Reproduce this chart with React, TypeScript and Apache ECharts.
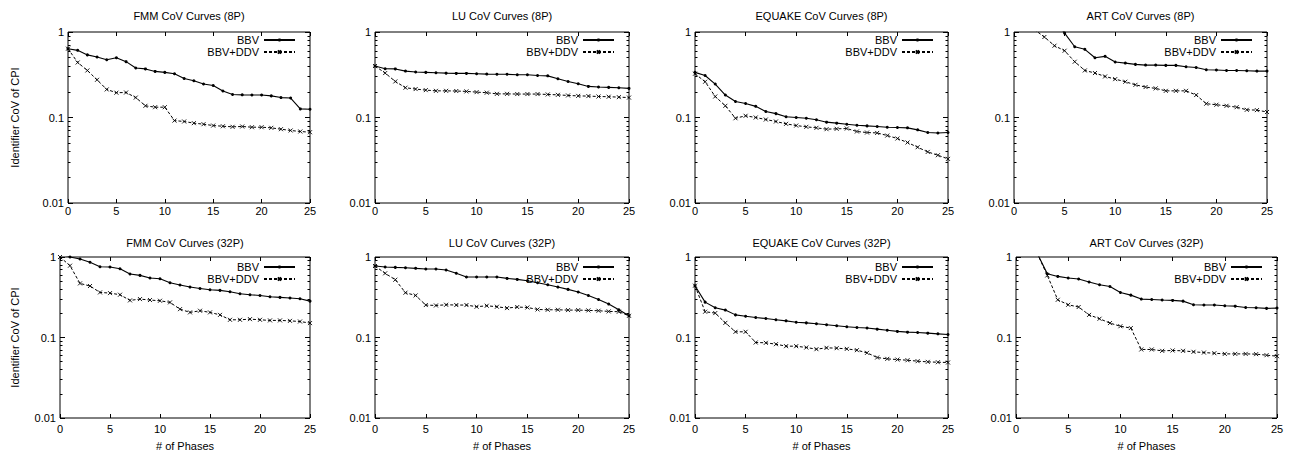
import React, { useEffect, useRef } from "react";
import * as echarts from "echarts";

const phases = [0, 1, 2, 3, 4, 5, 6, 7, 8, 9, 10, 11, 12, 13, 14, 15, 16, 17, 18, 19, 20, 21, 22, 23, 24, 25];
const xTicks = [0, 5, 10, 15, 20, 25];
const yMajorTicks = [0.01, 0.1, 1];
const yMinorTicks = [0.02, 0.03, 0.04, 0.05, 0.06, 0.07, 0.08, 0.09, 0.2, 0.3, 0.4, 0.5, 0.6, 0.7, 0.8, 0.9];

const seriesNames = ["BBV", "BBV+DDV"];
const titles = [
  "FMM CoV Curves (8P)",
  "LU CoV Curves (8P)",
  "EQUAKE CoV Curves (8P)",
  "ART CoV Curves (8P)",
  "FMM CoV Curves (32P)",
  "LU CoV Curves (32P)",
  "EQUAKE CoV Curves (32P)",
  "ART CoV Curves (32P)",
];
const yAxisTitle = "Identifier CoV of CPI";
const xAxisTitle = "# of Phases";

const fmm8Bbv = [0.638, 0.61, 0.54, 0.51, 0.474, 0.5, 0.45, 0.38, 0.37, 0.346, 0.337, 0.325, 0.286, 0.269, 0.246, 0.237, 0.204, 0.186, 0.184, 0.183, 0.183, 0.179, 0.171, 0.169, 0.126, 0.125];
const fmm8Ddv = [0.638, 0.44, 0.355, 0.276, 0.213, 0.195, 0.196, 0.171, 0.137, 0.132, 0.132, 0.092, 0.0898, 0.0859, 0.0835, 0.0805, 0.079, 0.0778, 0.0785, 0.077, 0.077, 0.0757, 0.073, 0.0705, 0.0686, 0.0673];
const lu8Bbv = [0.4, 0.372, 0.37, 0.349, 0.34, 0.337, 0.334, 0.33, 0.328, 0.328, 0.325, 0.322, 0.32, 0.32, 0.316, 0.316, 0.31, 0.307, 0.284, 0.264, 0.248, 0.231, 0.227, 0.225, 0.223, 0.219];
const lu8Ddv = [0.4, 0.331, 0.264, 0.223, 0.215, 0.209, 0.205, 0.205, 0.204, 0.202, 0.198, 0.195, 0.189, 0.189, 0.188, 0.188, 0.188, 0.186, 0.184, 0.181, 0.179, 0.178, 0.176, 0.175, 0.173, 0.171];
const eq8Bbv = [0.337, 0.31, 0.246, 0.183, 0.154, 0.146, 0.135, 0.1175, 0.111, 0.102, 0.1, 0.098, 0.094, 0.0882, 0.0859, 0.0835, 0.0813, 0.0798, 0.0785, 0.077, 0.0764, 0.0757, 0.0717, 0.0667, 0.066, 0.0667];
const eq8Ddv = [0.325, 0.262, 0.176, 0.137, 0.098, 0.1047, 0.1, 0.0947, 0.0898, 0.0843, 0.0805, 0.0778, 0.0757, 0.073, 0.0737, 0.0743, 0.0686, 0.0667, 0.066, 0.0615, 0.0568, 0.051, 0.0449, 0.0396, 0.0362, 0.0328];
const art8Bbv = [3.0, 2.5, 2.0, 1.7, 1.4, 0.97, 0.673, 0.627, 0.5, 0.519, 0.445, 0.433, 0.418, 0.41, 0.41, 0.407, 0.407, 0.393, 0.385, 0.362, 0.359, 0.355, 0.355, 0.352, 0.349, 0.349];
const art8Ddv = [1.6, 1.3, 1.07, 0.874, 0.691, 0.604, 0.449, 0.355, 0.331, 0.302, 0.281, 0.262, 0.241, 0.227, 0.219, 0.205, 0.205, 0.205, 0.183, 0.145, 0.141, 0.137, 0.132, 0.123, 0.122, 0.116];
const fmm32Bbv = [1.1, 1.0, 0.944, 0.859, 0.758, 0.751, 0.716, 0.614, 0.591, 0.548, 0.537, 0.479, 0.448, 0.423, 0.407, 0.392, 0.385, 0.37, 0.35, 0.34, 0.333, 0.321, 0.315, 0.309, 0.303, 0.283];
const fmm32Ddv = [1.0, 0.78, 0.47, 0.436, 0.363, 0.356, 0.34, 0.289, 0.3, 0.292, 0.286, 0.273, 0.225, 0.205, 0.215, 0.205, 0.191, 0.166, 0.166, 0.169, 0.166, 0.163, 0.163, 0.161, 0.158, 0.151];
const lu32Bbv = [0.773, 0.751, 0.743, 0.736, 0.723, 0.709, 0.709, 0.689, 0.627, 0.564, 0.564, 0.564, 0.564, 0.542, 0.527, 0.507, 0.479, 0.453, 0.423, 0.396, 0.367, 0.333, 0.297, 0.26, 0.221, 0.186];
const lu32Ddv = [0.773, 0.627, 0.522, 0.36, 0.333, 0.253, 0.25, 0.255, 0.253, 0.253, 0.241, 0.248, 0.241, 0.232, 0.239, 0.236, 0.223, 0.221, 0.221, 0.219, 0.219, 0.217, 0.215, 0.211, 0.209, 0.186];
const eq32Bbv = [0.44, 0.275, 0.234, 0.219, 0.191, 0.184, 0.177, 0.172, 0.166, 0.161, 0.155, 0.152, 0.148, 0.144, 0.14, 0.136, 0.133, 0.131, 0.127, 0.123, 0.119, 0.1165, 0.1154, 0.1132, 0.111, 0.109];
const eq32Ddv = [0.44, 0.209, 0.201, 0.152, 0.1177, 0.1177, 0.0867, 0.0859, 0.0826, 0.078, 0.078, 0.0751, 0.0716, 0.0744, 0.0737, 0.0722, 0.0696, 0.0645, 0.0564, 0.0543, 0.0532, 0.0522, 0.0508, 0.0498, 0.0493, 0.0489];
const art32Bbv = [1.6, 1.3, 1.13, 0.62, 0.574, 0.548, 0.532, 0.489, 0.453, 0.431, 0.363, 0.336, 0.3, 0.297, 0.292, 0.289, 0.283, 0.255, 0.253, 0.253, 0.248, 0.245, 0.236, 0.234, 0.23, 0.232];
const art32Ddv = [1.6, 1.3, 1.13, 0.59, 0.294, 0.255, 0.239, 0.191, 0.171, 0.151, 0.138, 0.131, 0.071, 0.071, 0.0683, 0.069, 0.0683, 0.0664, 0.065, 0.0638, 0.0626, 0.0626, 0.0626, 0.0621, 0.0603, 0.0586];

const panelData = [
  [fmm8Bbv, fmm8Ddv],
  [lu8Bbv, lu8Ddv],
  [eq8Bbv, eq8Ddv],
  [art8Bbv, art8Ddv],
  [fmm32Bbv, fmm32Ddv],
  [lu32Bbv, lu32Ddv],
  [eq32Bbv, eq32Ddv],
  [art32Bbv, art32Ddv],
];

// layout (pixels)
const W = 1291;
const H = 453;
const GRIDS = [
  { left: 68, top: 32, width: 242, height: 171 },
  { left: 375, top: 32, width: 254, height: 171 },
  { left: 695, top: 32, width: 253, height: 171 },
  { left: 1014, top: 32, width: 253, height: 171 },
  { left: 60, top: 257, width: 250, height: 161 },
  { left: 375, top: 257, width: 254, height: 161 },
  { left: 695, top: 257, width: 253, height: 161 },
  { left: 1016, top: 257, width: 261, height: 161 },
];

const FONT = "'Liberation Sans', Arial, Helvetica, sans-serif";
const X_SYMBOL = "path://M0,0L4,4M4,0L0,4";

function buildOption() {
  const grid: any[] = [];
  const xAxis: any[] = [];
  const yAxis: any[] = [];
  const series: any[] = [];
  const title: any[] = [];
  const legend: any[] = [];

  GRIDS.forEach((g, i) => {
    const row = i < 4 ? 0 : 1;
    const col = i % 4;
    grid.push({
      left: g.left,
      top: g.top,
      width: g.width,
      height: g.height,
      show: true,
      borderColor: "#000",
      borderWidth: 1,
      backgroundColor: "transparent",
      containLabel: false,
    });
    const xBase = {
      gridIndex: i,
      type: "value",
      min: 0,
      max: 25,
      interval: 5,
      axisLine: { show: false },
      splitLine: { show: false },
      axisTick: { show: true, inside: true, length: 4, lineStyle: { color: "#000", width: 1 } },
    };
    xAxis.push({
      ...xBase,
      position: "bottom",
      axisLabel: {
        show: true,
        color: "#000",
        fontSize: 11,
        fontFamily: FONT,
        margin: row === 0 ? 2 : 5,
        customValues: xTicks,
      },
      name: row === 1 ? xAxisTitle : "",
      nameLocation: "middle",
      nameGap: 22,
      nameTextStyle: { color: "#000", fontSize: 11, fontFamily: FONT },
    });
    xAxis.push({ ...xBase, position: "top", axisLabel: { show: false } });

    const yBase = {
      gridIndex: i,
      type: "log",
      logBase: 10,
      min: 0.01,
      max: 1,
      axisLine: { show: false },
      splitLine: { show: false },
    };
    yAxis.push({
      ...yBase,
      position: "left",
      axisTick: { show: true, inside: true, length: 5, lineStyle: { color: "#000", width: 1 }, customValues: yMajorTicks },
      axisLabel: {
        show: true,
        color: "#000",
        fontSize: 11,
        fontFamily: FONT,
        margin: 4,
        customValues: yMajorTicks,
        formatter: (v: number) => String(v),
      },
      name: col === 0 ? yAxisTitle : "",
      nameLocation: "middle",
      nameGap: g.left - 20,
      nameTextStyle: { color: "#000", fontSize: 11, fontFamily: FONT },
    });
    yAxis.push({
      ...yBase,
      position: "left",
      axisLabel: { show: false },
      axisTick: { show: true, inside: true, length: 2.5, lineStyle: { color: "#000", width: 1 }, customValues: yMinorTicks },
    });
    yAxis.push({
      ...yBase,
      position: "right",
      axisLabel: { show: false },
      axisTick: { show: true, inside: true, length: 5, lineStyle: { color: "#000", width: 1 }, customValues: yMajorTicks },
    });
    yAxis.push({
      ...yBase,
      position: "right",
      axisLabel: { show: false },
      axisTick: { show: true, inside: true, length: 2.5, lineStyle: { color: "#000", width: 1 }, customValues: yMinorTicks },
    });

    const [bbv, ddv] = panelData[i];
    series.push({
      type: "line",
      name: seriesNames[0],
      xAxisIndex: 2 * i,
      yAxisIndex: 4 * i,
      data: phases.map((p, k) => [p, bbv[k]]),
      symbol: "circle",
      symbolSize: 3,
      clip: true,
      silent: true,
      lineStyle: { color: "#000", width: 1.1, type: "solid" },
      itemStyle: { color: "#000" },
    });
    series.push({
      type: "line",
      name: seriesNames[1],
      xAxisIndex: 2 * i,
      yAxisIndex: 4 * i,
      data: phases.map((p, k) => [p, ddv[k]]),
      symbol: X_SYMBOL,
      symbolSize: 4,
      clip: true,
      silent: true,
      lineStyle: { color: "#000", width: 1, type: [3, 2] },
      itemStyle: { color: "#000", borderColor: "#000", borderWidth: 0.9 },
    });

    title.push({
      text: titles[i],
      left: g.left + g.width / 2,
      textAlign: "center",
      top: row === 0 ? 9 : 236,
      padding: 0,
      textStyle: { color: "#000", fontSize: 11, fontWeight: "normal", fontFamily: FONT, lineHeight: 13 },
    });

    const legendRight = W - (g.left + g.width - 14);
    const legendTop0 = row === 0 ? 34 : 261;
    seriesNames.forEach((nm, j) => {
      legend.push({
        data: [nm],
        right: legendRight,
        top: legendTop0 + j * 12,
        orient: "horizontal",
        align: "right",
        padding: 0,
        itemWidth: 31,
        itemHeight: 4,
        selectedMode: false,
        textStyle: { color: "#000", fontSize: 11, fontFamily: FONT, lineHeight: 12 },
      });
    });
  });

  return {
    animation: false,
    backgroundColor: "#fff",
    textStyle: { fontFamily: FONT },
    grid,
    xAxis,
    yAxis,
    series,
    title,
    legend,
  };
}

export default function App() {
  const ref = useRef<HTMLDivElement>(null);
  useEffect(() => {
    if (!ref.current) return;
    const chart = echarts.init(ref.current, undefined, { renderer: "svg" });
    chart.setOption(buildOption() as any);
    return () => {
      chart.dispose();
    };
  }, []);
  return (
    <div
      ref={ref}
      style={{ position: "absolute", left: 0, top: 0, width: W, height: H, background: "#fff" }}
    />
  );
}
